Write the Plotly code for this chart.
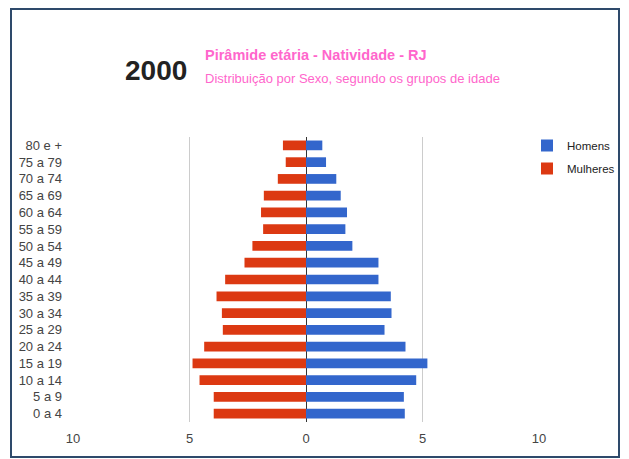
import plotly.graph_objects as go

categories = ["0 a 4", "5 a 9", "10 a 14", "15 a 19", "20 a 24", "25 a 29", "30 a 34",
              "35 a 39", "40 a 44", "45 a 49", "50 a 54", "55 a 59", "60 a 64",
              "65 a 69", "70 a 74", "75 a 79", "80 e +"]
homens = [4.24, 4.20, 4.73, 5.21, 4.27, 3.37, 3.67, 3.64, 3.11, 3.11, 1.99, 1.69,
          1.76, 1.49, 1.30, 0.86, 0.70]
mulheres = [3.96, 3.96, 4.57, 4.87, 4.37, 3.57, 3.61, 3.84, 3.47, 2.64, 2.30, 1.84,
            1.93, 1.81, 1.21, 0.87, 0.99]
tick_vals = [-10, -5, 0, 5, 10]
tick_text = ["10", "5", "0", "5", "10"]

FONT = "Liberation Sans, Arial, sans-serif"

# page body has an 8px margin: figure is sized and positioned to compensate
OFF = 8
W, H = 621, 451
L, T = 73 - OFF, 137 - OFF
pw, ph = 466, 285
R, B = W - L - pw, H - T - ph


def px(x):
    return (x - OFF - L) / pw


def py(y):
    return (H - B - (y - OFF)) / ph


fig = go.Figure()
fig.add_trace(go.Bar(y=categories, x=homens, orientation="h", name="Homens",
                     legendgroup="h", marker=dict(color="#3366cc", line=dict(width=0)),
                     width=0.58))
fig.add_trace(go.Bar(y=categories, x=[-v for v in mulheres], orientation="h", name="Mulheres",
                     legendgroup="m", marker=dict(color="#dc3912", line=dict(width=0)),
                     width=0.58))

fig.update_layout(
    width=W, height=H,
    margin=dict(l=L, r=R, t=T, b=B, autoexpand=False),
    barmode="relative",
    plot_bgcolor="white", paper_bgcolor="white",
    font=dict(family=FONT, size=13, color="#444444"),
    showlegend=True,
    legend=dict(x=px(527), y=py(131), xanchor="left", yanchor="top",
                traceorder="grouped", tracegroupgap=4,
                font=dict(size=11.5, color="#222222"),
                itemwidth=30, bgcolor="rgba(0,0,0,0)"),
    xaxis=dict(range=[-10, 10], tickvals=tick_vals, ticktext=tick_text,
               showgrid=True, gridcolor="#cccccc", gridwidth=1,
               zeroline=True, zerolinecolor="#333333", zerolinewidth=1,
               showline=False, ticks="", ticklabelstandoff=7,
               tickfont=dict(size=13, color="#444444"),
               fixedrange=True),
    yaxis=dict(categoryorder="array", categoryarray=categories,
               showgrid=False, zeroline=False, showline=False, ticks="",
               ticklabelstandoff=10, tickfont=dict(size=13, color="#444444"),
               fixedrange=True),
    shapes=[dict(type="rect", xref="paper", yref="paper",
                 x0=px(11), x1=px(619), y0=py(457), y1=py(9),
                 line=dict(color="#2e4a6b", width=2), fillcolor="rgba(0,0,0,0)",
                 layer="above")],
    annotations=[
        dict(text="<b>2000</b>", xref="paper", yref="paper", x=px(189), y=py(71),
             xanchor="right", yanchor="middle", showarrow=False,
             font=dict(size=28, color="#222222", family=FONT)),
        dict(text="<b>Pirâmide etária - Natividade - RJ</b>", xref="paper", yref="paper",
             x=px(203), y=py(55), xanchor="left", yanchor="middle", showarrow=False,
             font=dict(size=14.5, color="#ff66cc", family=FONT)),
        dict(text="Distribuição por Sexo, segundo os grupos de idade", xref="paper", yref="paper",
             x=px(203), y=py(78), xanchor="left", yanchor="middle", showarrow=False,
             font=dict(size=13, color="#ff66cc", family=FONT)),
    ],
)

fig.write_html("out.html")
